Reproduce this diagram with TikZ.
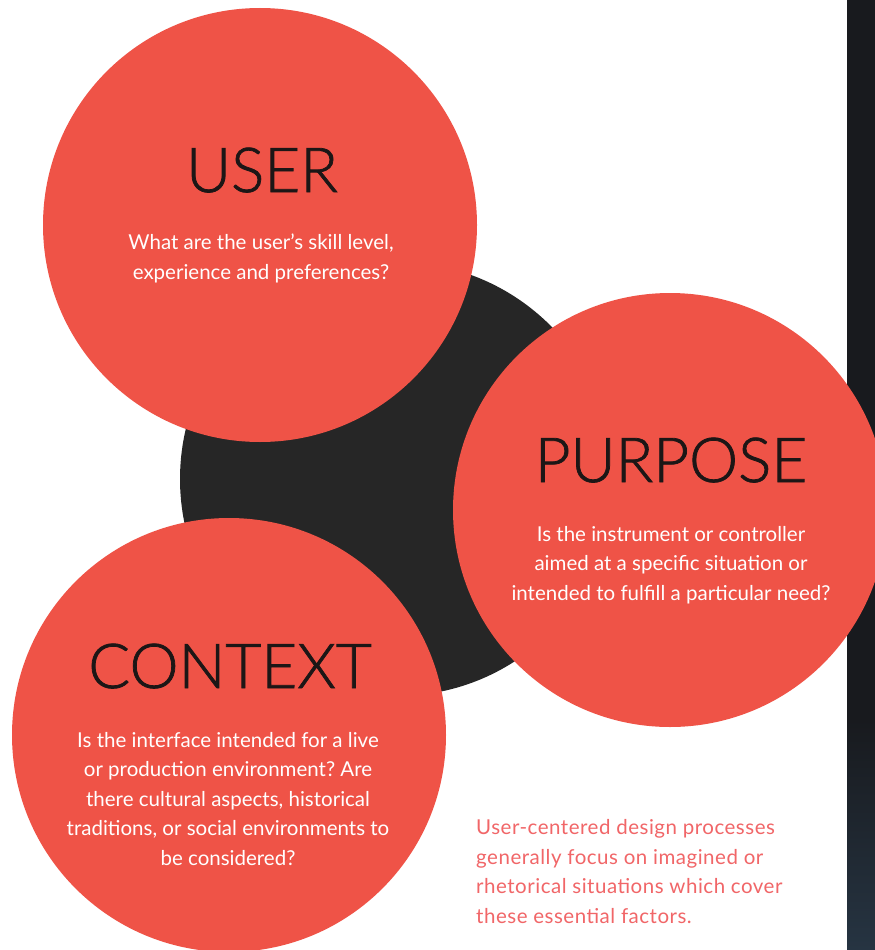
\documentclass[tikz,border=0pt]{standalone}
\usepackage{fontspec}
\setmainfont{Lato}
\newfontfamily\headfont[FakeBold=1.2]{Lato Light}
\frenchspacing
\definecolor{coral}{RGB}{239,83,71}
\definecolor{coal}{RGB}{38,38,38}
\definecolor{inkdark}{RGB}{28,22,22}
\definecolor{notecol}{RGB}{241,102,104}
\definecolor{spinetop}{RGB}{24,26,30}
\definecolor{spinebot}{RGB}{38,52,66}
\tikzset{
  disc/.style={circle, fill=coral, minimum size=434pt, inner sep=0pt},
  hub/.style={circle, fill=coal, minimum size=434pt, inner sep=0pt},
  title/.style={font=\headfont\fontsize{62}{62}\selectfont, text=inkdark, inner sep=0pt, anchor=base},
  body/.style={font=\fontsize{20.5}{29.5}\selectfont, text=white, align=center, inner sep=0pt, anchor=base},
  note/.style={font=\addfontfeatures{LetterSpace=2.5}\fontsize{20.5}{29.5}\selectfont, text=notecol, align=left, inner sep=0pt, anchor=base west},
}
\begin{document}
\begin{tikzpicture}[x=1pt,y=-1pt]
\useasboundingbox (0,0) rectangle (875,950);
\fill[white] (0,0) rectangle (875,950);
% dark edge of the facing page
\fill[spinetop] (847,0) rectangle (875,720);
\shade[top color=spinetop, bottom color=spinebot] (847,719) rectangle (875,950);
% central disc behind the three factors
\node[hub] (core) at (397,479) {};
\node[disc] (user) at (260,225) {};
\node[disc] (purpose) at (670,510) {};
\node[disc] (context) at (229,735) {};
% labels (multi-line texts sit on the baseline of their last line)
\node[title] (usert) at (262,192) {USER};
\node[body] (userb) at (261,279) {What are the user’s skill level,\\experience and preferences?};
\node[title] (purposet) at (671,482) {PURPOSE};
\node[body] (purposeb) at (671,600) {Is the instrument or controller\\aimed at a specific situation or\\intended to fulfill a particular need?};
\node[title] (contextt) at (230,688) {CONTEXT};
\node[body] (contextb) at (228,865) {Is the interface intended for a live\\or production environment? Are\\there cultural aspects, historical\\traditions, or social environments to\\be considered?};
\node[note] (summary) at (476,923) {User-centered design processes\\generally focus on imagined or\\rhetorical situations which cover\\these essential factors.};
\end{tikzpicture}
\end{document}
